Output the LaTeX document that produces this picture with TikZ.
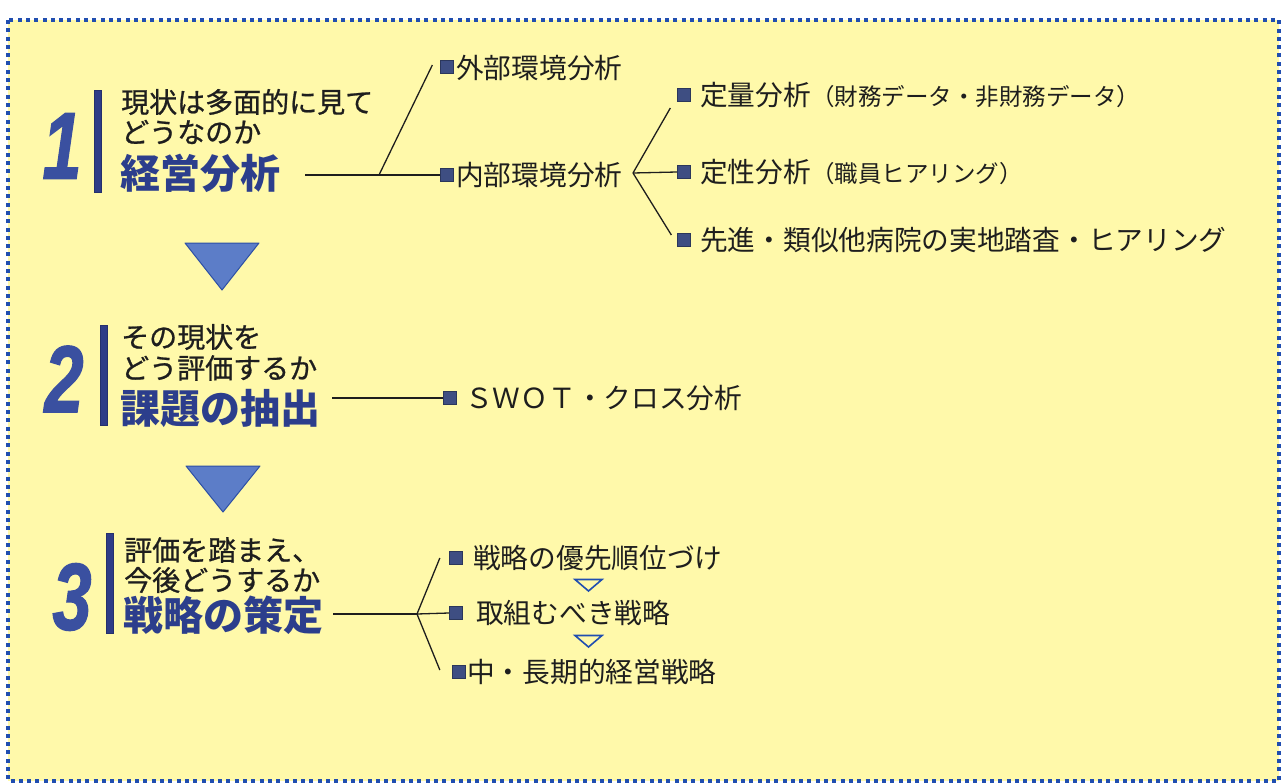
\documentclass[tikz,border=0pt]{standalone}
\usepackage{fontspec}
\usetikzlibrary{calc}
\newfontfamily\jp{Noto Sans CJK JP}
\newfontfamily\jpm{Noto Sans CJK JP}[FakeBold=0.8]
\newfontfamily\numfont{Liberation Sans}[FakeBold=1.5]
\definecolor{bgyellow}{RGB}{255,249,170}
\definecolor{borderblue}{RGB}{32,78,176}
\definecolor{headblue}{RGB}{44,62,140}
\definecolor{numblue}{RGB}{58,80,160}
\definecolor{barblue}{RGB}{46,60,135}
\definecolor{triblue}{RGB}{92,125,200}
\definecolor{triedge}{RGB}{45,80,165}
\definecolor{sqblue}{RGB}{62,78,130}
\definecolor{ink}{RGB}{30,30,30}
\tikzset{
  question/.style={anchor=west,inner sep=0pt,text=ink,font=\jpm\fontsize{28}{28}\selectfont},
  heading/.style={anchor=west,inner sep=0pt,text=headblue,font=\jp\bfseries\fontsize{40}{40}\selectfont},
  item/.style={anchor=west,inner sep=0pt,text=ink,font=\jp\fontsize{27.7}{27.7}\selectfont},
  bignum/.style={inner sep=0pt,text=numblue,font=\numfont\bfseries\itshape\fontsize{95}{95}\selectfont},
  bar/.style={draw=barblue!80!black,fill=barblue,line width=0.8pt,inner sep=0pt,minimum width=7pt},
  sq/.style={draw=sqblue!70!black,fill=sqblue,line width=0.8pt,inner sep=0pt,minimum size=13.5pt},
  link/.style={draw=ink,line width=1.3pt},
  bigtri/.style={fill=triblue,draw=triedge,line width=1pt,line join=round},
  smalltri/.style={draw=borderblue,line width=1.6pt,line join=miter},
  frame/.style={draw=borderblue,fill=bgyellow,line width=3.5pt,dash pattern=on 4pt off 4.3pt}
}
\begin{document}
\begin{tikzpicture}[x=1pt,y=-1pt]
\useasboundingbox (0,0) rectangle (1282,784);
\fill[white] (0,0) rectangle (1282,784);
\path[frame] (8,20) rectangle (1279,781);

% ---------- step 1 ----------
\node[bignum] (n1) at (62,146) {\scalebox{0.74}[1]{1}};
\node[bar,minimum height=102pt] (bar1) at (98,141) {};
\node[question] (q1a) at (121,102) {現状は多面的に見て};
\node[question] (q1b) at (121,132) {どうなのか};
\node[heading] (h1) at (120,173) {経営分析};

\node[sq] (sqA) at (447,67) {};
\node[sq] (sqB) at (447,175) {};
\node[item] (tA) at (456,68) {外部環境分析};
\node[item] (tB) at (456,175) {内部環境分析};
\coordinate (s1) at (305,175);
\coordinate (j1) at (379,175);
\draw[link] (s1) -- (sqB.west);
\draw[link] (j1) -- ($(sqA.west)+(-7.5,-2)$);

\node[sq] (sqC) at (684,95) {};
\node[sq] (sqD) at (684,172) {};
\node[sq] (sqE) at (684,240) {};
\node[item] (tC) at (700,95) {定量分析{\fontsize{23.5}{23.5}\selectfont（財務データ・非財務データ）}};
\node[item] (tD) at (700,172) {定性分析{\fontsize{23.5}{23.5}\selectfont（職員ヒアリング）}};
\node[item] (tE) at (700,240) {先進・類似他病院の実地踏査・ヒアリング};
\coordinate (v1) at (633,173);
\draw[link] (v1) -- ($(sqC.west)+(-6.5,13)$);
\draw[link] (v1) -- (sqD.west);
\draw[link] (v1) -- ($(sqE.west)+(-5.5,-5)$);

% arrow 1
\draw[bigtri] (185,243) -- (259,243) -- (222,290) -- cycle;

% ---------- step 2 ----------
\node[bignum] (n2) at (64,379) {\scalebox{0.74}[1]{2}};
\node[bar,minimum height=100pt] (bar2) at (104,375) {};
\node[question] (q2a) at (121,337) {その現状を};
\node[question] (q2b) at (121,368) {どう評価するか};
\node[heading] (h2) at (120,408) {課題の抽出};

\node[sq] (sqF) at (450,398) {};
\node[item] (tF) at (465,398) {ＳＷＯＴ・クロス分析};
\coordinate (s2) at (332,398);
\draw[link] (s2) -- (sqF.west);

% arrow 2
\draw[bigtri] (186,466) -- (260,466) -- (223,512) -- cycle;

% ---------- step 3 ----------
\node[bignum] (n3) at (72,597) {\scalebox{0.74}[1]{3}};
\node[bar,minimum height=100pt] (bar3) at (110,583) {};
\node[question] (q3a) at (124,550) {評価を踏まえ、};
\node[question] (q3b) at (124,580) {今後どうするか};
\node[heading] (h3) at (123,615) {戦略の策定};

\node[sq] (sqG) at (456,558) {};
\node[sq] (sqH) at (456,613) {};
\node[sq] (sqI) at (459,672) {};
\node[item] (tG) at (473,558) {戦略の優先順位づけ};
\node[item] (tH) at (476,613) {取組むべき戦略};
\node[item] (tI) at (467,672) {中・長期的経営戦略};
\coordinate (s3) at (333,614);
\coordinate (v3) at (417,614);
\draw[link] (s3) -- (v3);
\draw[link] (v3) -- ($(sqG.west)+(-9,0)$);
\draw[link] (v3) -- (sqH.west);
\draw[link] (v3) -- ($(sqI.west)+(-12,-2)$);

\draw[smalltri] (575,579.5) -- (602,579.5) -- (588.5,591) -- cycle;
\draw[smalltri] (575,635.5) -- (602,635.5) -- (588.5,647) -- cycle;
\end{tikzpicture}
\end{document}
